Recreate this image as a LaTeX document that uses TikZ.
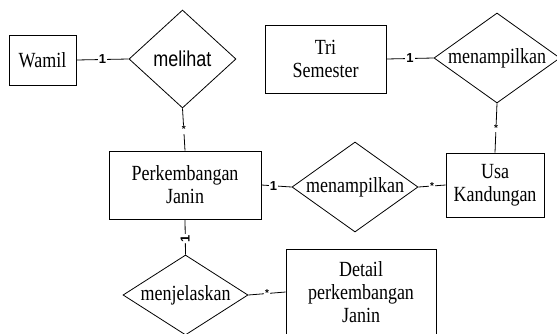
\documentclass[tikz,border=0pt]{standalone}
\usepackage{fontspec}
\setmainfont{Liberation Serif}
\setsansfont{Liberation Sans}
\usepackage{graphicx}
\usetikzlibrary{shapes.geometric}
\newcommand\stx[1]{\scalebox{1}[1.2]{#1}}
\tikzset{
  ent/.style={draw, thick, rectangle, inner sep=0pt},
  rel/.style={draw, thick, diamond, inner sep=0pt},
  txt/.style={align=center, inner sep=0pt, font=\fontsize{18}{23}\selectfont},
  stxt/.style={align=center, inner sep=0pt, font=\sffamily\fontsize{18}{23}\selectfont},
  card/.style={fill=white, inner sep=1pt, font=\sffamily\bfseries\fontsize{13}{14}\selectfont},
  star/.style={fill=white, inner sep=1pt, font=\sffamily\bfseries\fontsize{10}{11}\selectfont},
  conn/.style={thick}
}
\begin{document}
\begin{tikzpicture}[x=1pt,y=-1pt]
\useasboundingbox (0,0) rectangle (557,333);
\clip (0,0) rectangle (557,333);
% entities
\node[ent, minimum width=67pt, minimum height=50pt] (wamil) at (42.5,60) {};
\node[txt] (wamilt) at (wamil) {\stx{Wamil}};
\node[ent, minimum width=121pt, minimum height=68pt] (tri) at (325.5,59) {};
\node[txt] (trit) at (tri) {\stx{Tri}\\\stx{Semester}};
\node[ent, minimum width=152pt, minimum height=68pt] (perk) at (185,185) {};
\node[txt] (perkt) at (perk) {\stx{Perkembangan}\\\stx{Janin}};
\node[ent, minimum width=98pt, minimum height=64pt] (usa) at (495,185) {};
\node[txt] (usat) at (usa) {\stx{Usa}\\\stx{Kandungan}};
\node[ent, minimum width=150pt, minimum height=86pt] (detail) at (361,292) {};
\node[txt] (detailt) at (detail) {\stx{Detail}\\\stx{perkembangan}\\\stx{Janin}};
% relationships
\node[rel, minimum width=107pt, minimum height=98pt] (mel) at (182.5,59) {};
\node[stxt] (melt) at (mel) {\stx{melihat}};
\node[rel, minimum width=126pt, minimum height=90pt] (m1) at (497,58) {};
\node[txt] (m1t) at (m1) {\stx{menampilkan}};
\node[rel, minimum width=126pt, minimum height=90pt] (m2) at (355,187) {};
\node[txt] (m2t) at (m2) {\stx{menampilkan}};
\node[rel, minimum width=125pt, minimum height=80pt] (mj) at (185.5,295) {};
\node[txt] (mjt) at (mj) {\stx{menjelaskan}};
% connectors
\draw[conn] (wamil.east) -- node[card] {1} (mel.west);
\draw[conn] (mel.south) -- node[star, pos=0.5] {*} (perk.north);
\draw[conn] (tri.east) -- node[card] {1} (m1.west);
\draw[conn] (m1.south) -- node[star, pos=0.5] {*} (usa.north);
\draw[conn] (perk.east) -- node[card, pos=0.4] {1} (m2.west);
\draw[conn] (m2.east) -- node[star, pos=0.5] {*} (usa.west);
\draw[conn] (perk.south) -- node[card, rotate=90, pos=0.55] {1} (mj.north);
\draw[conn] (mj.east) -- node[star, pos=0.5] {*} (detail.west);
\end{tikzpicture}
\end{document}
